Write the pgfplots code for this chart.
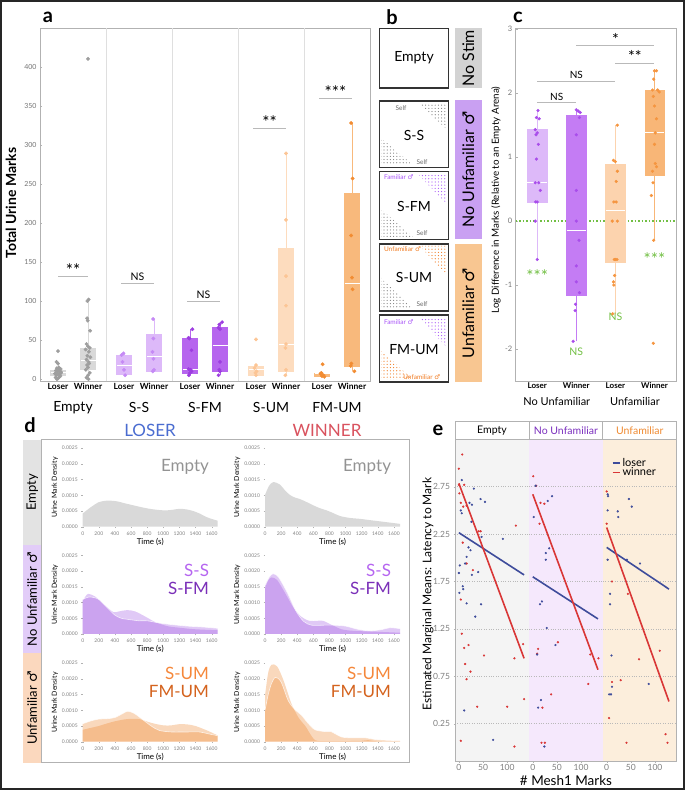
\documentclass[border=0pt]{standalone}
\usepackage{pgfplots}
\pgfplotsset{compat=1.18}
\usepgfplotslibrary{statistics}
\usetikzlibrary{patterns.meta}
\usepackage{fontspec}
\setmainfont{Lato}
\newfontfamily\djv{DejaVu Sans}
\newcommand{\male}{{\djv ♂}}
\newcommand{\fs}[1]{\fontsize{#1}{#1}\selectfont}
\definecolor{gpt}{HTML}{9E9E9E}
\definecolor{gbox}{HTML}{D9D9D9}
\definecolor{lppt}{HTML}{C58AF5}
\definecolor{lpbox}{HTML}{DDB9F9}
\definecolor{ppt}{HTML}{9D3EE0}
\definecolor{pbox}{HTML}{B665EE}
\definecolor{lopt}{HTML}{FCC595}
\definecolor{lobox}{HTML}{FDDCBE}
\definecolor{opt}{HTML}{F28C32}
\definecolor{obox}{HTML}{F8B97C}
\definecolor{cpt}{HTML}{A94DEB}
\definecolor{cbox1}{HTML}{DDB9F9}
\definecolor{cbox2}{HTML}{C47CF4}
\definecolor{copt}{HTML}{F5953F}
\definecolor{cbox3}{HTML}{FCD3AE}
\definecolor{cbox4}{HTML}{F8B677}
\definecolor{sgreen}{HTML}{72BF44}
\definecolor{stripgrey}{HTML}{D3D3D3}
\definecolor{strippurple}{HTML}{C9A0F2}
\definecolor{striporange}{HTML}{F8C691}
\definecolor{famp}{HTML}{A855F7}
\definecolor{unfo}{HTML}{F07A20}
\definecolor{dgrey}{HTML}{D9D9D9}
\definecolor{dpur}{HTML}{994BE0}
\definecolor{dora}{HTML}{EB7E21}
\definecolor{dstripg}{HTML}{E3E3E3}
\definecolor{dstripp}{HTML}{E2CCF8}
\definecolor{dstripo}{HTML}{FBD8BE}
\definecolor{loserblue}{HTML}{4A6CD0}
\definecolor{winnerred}{HTML}{D9525E}
\definecolor{tSS}{HTML}{B565F0}
\definecolor{tSFM}{HTML}{7A2FB8}
\definecolor{tSUM}{HTML}{F5873A}
\definecolor{tFMUM}{HTML}{D4631E}
\definecolor{ebgE}{HTML}{F4F4F4}
\definecolor{ebgN}{HTML}{F5E8FC}
\definecolor{ebgU}{HTML}{FCEEDC}
\definecolor{eblue}{HTML}{3E4C9B}
\definecolor{ered}{HTML}{D93636}
\definecolor{hdrP}{HTML}{7B2FBE}
\definecolor{hdrO}{HTML}{F08A30}
\pgfplotsset{/pgf/number format/assume math mode=true}
\newcommand{\bx}[8]{\addplot[fill=#2, draw=#2, boxplot prepared={draw position=#1, lower whisker=#3, lower quartile=#4, median=#5, upper quartile=#6, upper whisker=#7, box extend=#8, whisker extend=0, draw direction=y, every median/.style={draw=white, line width=1pt}}] coordinates {};}
\pgfplotsset{
 dens/.style={scale only axis, anchor=south west, width=135pt, height=78.5pt, xmin=0, xmax=1675, ymin=0, ymax=2.5,
  axis line style={draw=none}, xtick={0,200,...,1600}, ytick={0,0.5,1,1.5,2,2.5},
  yticklabels={0.0000,0.0005,0.0010,0.0015,0.0020,0.0025}, /pgf/number format/1000 sep={},
  tick label style={font=\fs{5}, text=gray}, major tick length=1.5pt, tick style={gray!60}, tick align=outside, tick pos=left,
  xlabel={Time (s)}, xlabel style={font=\fs{8}, yshift=4pt}, ylabel={Urine Mark Density}, ylabel style={font=\fs{7}, yshift=-3pt}},
 pe/.style={scale only axis, anchor=south west, width=73.9pt, height=322.4pt, xmin=-8, xmax=145, ymin=-0.15, ymax=3.25,
  axis line style={draw=none}, ytick={0.25,0.75,1.25,1.75,2.25,2.75}, ymajorgrids, major grid style={gray!55, dotted, line width=0.6pt},
  xtick={0,50,100}, tick label style={font=\fs{8.5}, text=gray}, major tick length=1.5pt, tick style={gray!60}, tick align=outside, tick pos=left,
  xticklabel style={yshift=2.5pt},
  yticklabel style={/pgf/number format/.cd, fixed, fixed zerofill, precision=2}},
}
\begin{document}
\begin{tikzpicture}
\useasboundingbox (0pt,0pt) rectangle (685pt,790pt);
% ---------------- panel a
\begin{axis}[at={(40pt,408.5pt)}, anchor=south west, scale only axis, width=330pt, height=353pt,
 xmin=0, xmax=11, ymin=-3, ymax=449, axis line style={draw=gray!60, line width=0.9pt},
 ytick={0,50,...,450}, yticklabel style={font=\fs{7}, text=gray!90!black},
 xtick={0.6,1.6,2.8,3.8,5.0,6.0,7.2,8.2,9.4,10.4},
 xticklabels={Loser,Winner,Loser,Winner,Loser,Winner,Loser,Winner,Loser,Winner},
 xticklabel style={font=\bfseries\fs{8.5}, yshift=2pt}, tick pos=left, xtick style={draw=none},
 major tick length=2pt, ytick style={gray!60},
 extra x ticks={2.2,4.4,6.6,8.8}, extra x tick labels={}, extra x tick style={grid=major, major grid style={gray!25, line width=0.7pt}, tick style={draw=none}},
 clip=false]
\bx{0.6}{gbox}{0}{5}{8}{12}{22}{0.5}
\bx{1.6}{gbox}{0}{12.3}{24}{39.5}{100}{0.5}
\bx{2.8}{lpbox}{5}{6}{18}{31}{33}{0.5}
\bx{3.8}{lpbox}{10}{10}{29}{58}{77}{0.5}
\bx{5.0}{pbox}{5}{7}{12}{52}{64}{0.5}
\bx{6.0}{pbox}{5}{10}{43}{67}{73}{0.5}
\bx{7.2}{lobox}{4}{5.5}{12}{17}{18}{0.5}
\bx{8.2}{lobox}{5}{10}{44}{168}{289}{0.5}
\bx{9.4}{obox}{3}{4}{7}{8}{9}{0.5}
\bx{10.4}{obox}{10}{17}{123}{238}{328}{0.5}
\addplot[only marks, mark=*, mark size=1.7pt, color=gpt] coordinates {(0.52,2)(0.6,1)(0.68,4)(0.55,5)(0.64,6)(0.5,7)(0.7,8)(0.58,9)(0.66,10)(0.53,11)(0.62,12)(0.69,13)(0.56,14)(0.63,15)(0.6,20)(0.55,22)(0.6,36)(0.65,3)(0.57,0)(0.7,9)};
\addplot[only marks, mark=*, mark size=1.7pt, color=gpt] coordinates {(1.6,410)(1.62,102)(1.58,100)(1.57,78)(1.59,75)(1.67,62)(1.55,45)(1.6,42)(1.66,40)(1.52,38)(1.63,35)(1.58,30)(1.68,28)(1.55,25)(1.62,22)(1.64,20)(1.57,18)(1.6,15)(1.53,12)(1.66,8)(1.6,5)(1.55,2)(1.62,0)};
\addplot[only marks, mark=*, mark size=1.7pt, color=lppt] coordinates {(2.78,33)(2.72,31)(2.75,22)(2.8,12)(2.84,5)};
\addplot[only marks, mark=*, mark size=1.7pt, color=lppt] coordinates {(3.77,77)(3.78,52)(3.75,35)(3.78,26)(3.8,12)(3.76,10)};
\addplot[only marks, mark=*, mark size=1.7pt, color=ppt] coordinates {(5.08,64)(4.95,53)(4.98,52)(5.05,37)(4.95,13)(5.02,12)(5.05,10)(4.96,5)(5.0,8)};
\addplot[only marks, mark=*, mark size=1.7pt, color=ppt] coordinates {(6.07,73)(5.98,70)(5.95,66)(6.0,64)(6.0,22)(5.98,12)(6.0,10)(5.95,5)};
\addplot[only marks, mark=*, mark size=1.7pt, color=lopt] coordinates {(7.2,51)(7.2,18)(7.15,14)(7.22,10)(7.18,8)(7.2,5)};
\addplot[only marks, mark=*, mark size=1.7pt, color=lopt] coordinates {(8.2,289)(8.2,204)(8.2,132)(8.2,94)(8.2,45)(8.18,40)(8.2,12)(8.18,5)};
\addplot[only marks, mark=*, mark size=1.7pt, color=opt] coordinates {(9.42,19)(9.38,8)(9.35,7)(9.45,5)(9.4,4)(9.48,3)};
\addplot[only marks, mark=*, mark size=1.7pt, color=opt] coordinates {(10.37,328)(10.42,257)(10.37,184)(10.4,130)(10.42,115)(10.38,20)(10.36,17)(10.48,10)};
\draw[gray!55, line width=0.8pt] (axis cs:0.6,131) -- (axis cs:1.6,131) node[midway, above, inner sep=0pt, font=\fs{17}, text=black] {**};
\draw[gray!55, line width=0.8pt] (axis cs:2.7,123) -- (axis cs:3.8,123) node[midway, above, inner sep=2pt, font=\fs{10.5}, text=black] {NS};
\draw[gray!55, line width=0.8pt] (axis cs:4.9,100) -- (axis cs:6.0,100) node[midway, above, inner sep=2pt, font=\fs{10.5}, text=black] {NS};
\draw[gray!55, line width=0.8pt] (axis cs:7.1,321) -- (axis cs:8.2,321) node[midway, above, inner sep=0pt, font=\fs{17}, text=black] {**};
\draw[gray!55, line width=0.8pt] (axis cs:9.3,359) -- (axis cs:10.4,359) node[midway, above, inner sep=0pt, font=\fs{17}, text=black] {***};
\node[font=\fs{14}] at (axis cs:1.1,-3) [yshift=-26pt] {Empty};
\node[font=\fs{14}] at (axis cs:3.3,-3) [yshift=-26pt] {S-S};
\node[font=\fs{14}] at (axis cs:5.5,-3) [yshift=-26pt] {S-FM};
\node[font=\fs{14}] at (axis cs:7.7,-3) [yshift=-26pt] {S-UM};
\node[font=\fs{14}] at (axis cs:9.9,-3) [yshift=-26pt] {FM-UM};
\end{axis}
% ---------------- panel c
\begin{axis}[at={(515.7pt,409pt)}, anchor=south west, scale only axis, width=160.3pt, height=353pt,
 xmin=0.45, xmax=4.55, ymin=-2.5, ymax=3.02, axis line style={draw=gray!60, line width=0.9pt},
 ytick={-2,-1,0,1,2,3}, yticklabel style={font=\fs{7.5}, text=gray!90!black},
 xtick={1,2,3,4}, xticklabels={Loser,Winner,Loser,Winner}, xticklabel style={font=\bfseries\fs{8}, yshift=2pt},
 tick pos=left, xtick style={draw=none}, major tick length=2pt, ytick style={gray!60}, clip=false]
\addplot[sgreen, line width=1.5pt, dash pattern=on 1.5pt off 2pt] coordinates {(0.45,0)(4.55,0)};
\bx{1}{cbox1}{-0.60}{0.30}{0.60}{1.44}{1.73}{0.5}
\bx{2}{cbox2}{-1.88}{-1.16}{-0.14}{1.66}{1.74}{0.5}
\bx{3}{cbox3}{-1.45}{-0.65}{0.16}{0.885}{1.50}{0.5}
\bx{4}{cbox4}{-0.30}{0.72}{1.385}{2.05}{2.35}{0.5}
\addplot[only marks, mark=*, mark size=1.4pt, color=cpt] coordinates {(1.02,1.73)(0.98,1.62)(1.05,1.60)(0.95,1.43)(1.0,1.38)(0.97,1.35)(1.03,1.20)(0.98,0.97)(0.95,0.60)(1.04,0.60)(1.08,0.48)(0.96,0.30)(1.0,0.30)(0.95,0)(1.0,-0.60)};
\addplot[only marks, mark=*, mark size=1.4pt, color=cpt] coordinates {(2.0,1.74)(2.05,1.72)(2.1,1.70)(2.08,1.62)(2.0,1.35)(2.0,0.48)(2.0,0)(2.07,-0.30)(2.0,-0.70)(2.0,-0.95)(2.08,-1.12)(1.98,-1.30)(1.97,-1.40)(1.92,-1.88)};
\addplot[only marks, mark=*, mark size=1.4pt, color=copt] coordinates {(3.05,1.50)(2.95,0.95)(3.0,0.93)(3.05,0.78)(3.02,0.62)(2.96,0.30)(3.02,0.30)(2.92,0)(3.05,0)(2.97,-0.60)(3.04,-0.60)(3.0,-0.60)(2.98,-0.85)(2.95,-0.95)(2.96,-1.0)(2.93,-1.45)};
\addplot[only marks, mark=*, mark size=1.4pt, color=copt] coordinates {(4.0,2.35)(4.05,2.35)(3.98,2.22)(3.95,2.05)(4.08,2.05)(4.12,2.02)(3.97,1.95)(4.0,1.80)(4.05,1.60)(4.02,1.38)(4.0,1.20)(4.02,0.90)(4.05,0.85)(3.95,0.78)(3.96,0.60)(3.92,0.40)(3.98,-0.30)(3.97,-1.91)};
\draw[gray!55, line width=0.8pt] (axis cs:1,1.85) -- (axis cs:2,1.85) node[midway, above, inner sep=2pt, font=\fs{10}, text=black] {NS};
\draw[gray!55, line width=0.8pt] (axis cs:1,2.19) -- (axis cs:3,2.19) node[midway, above, inner sep=2pt, font=\fs{10}, text=black] {NS};
\draw[gray!55, line width=0.8pt] (axis cs:3,2.47) -- (axis cs:4,2.47) node[midway, above, inner sep=0pt, font=\fs{16}, text=black] {**};
\draw[gray!55, line width=0.8pt] (axis cs:2,2.74) -- (axis cs:4,2.74) node[midway, above, inner sep=0pt, font=\fs{16}, text=black] {*};
\node[text=sgreen, font=\fs{17}] at (axis cs:1,-0.86) {***};
\node[text=sgreen, font=\fs{10.5}] at (axis cs:2,-2.04) {NS};
\node[text=sgreen, font=\fs{10.5}] at (axis cs:3,-1.49) {NS};
\node[text=sgreen, font=\fs{17}] at (axis cs:4,-0.60) {***};
\node[font=\fs{11}] at (axis cs:1.5,-2.5) [yshift=-21pt] {No Unfamiliar};
\node[font=\fs{11}] at (axis cs:3.5,-2.5) [yshift=-21pt] {Unfamiliar};
\end{axis}
% ---------------- panel d axes
\begin{axis}[dens, at={(82.7pt,263.3pt)}]
\addplot[fill=dgrey, draw=none, smooth] coordinates {(0,0.42)(100,0.62)(200,0.78)(300,0.83)(420,0.81)(530,0.74)(630,0.68)(730,0.62)(830,0.57)(950,0.53)(1040,0.52)(1120,0.54)(1200,0.57)(1290,0.55)(1370,0.50)(1450,0.42)(1534,0.31)(1610,0.24)(1675,0.19)} \closedcycle;
\end{axis}
\begin{axis}[dens, at={(265pt,263.3pt)}]
\addplot[fill=dgrey, draw=none, smooth] coordinates {(0,1.01)(50,1.30)(103,1.42)(186,1.34)(250,1.15)(310,1.01)(370,0.93)(434,0.88)(520,0.78)(600,0.68)(680,0.59)(765,0.52)(850,0.43)(930,0.34)(1050,0.28)(1178,0.25)(1300,0.21)(1426,0.17)(1550,0.13)(1675,0.09)} \closedcycle;
\end{axis}
\begin{axis}[dens, at={(82.7pt,156pt)}]
\addplot[fill=dpur, fill opacity=0.3, draw=none, smooth] coordinates {(0,1.05)(35,1.2)(70,1.28)(150,1.2)(220,1.05)(280,0.9)(380,0.7)(450,0.72)(550,0.76)(650,0.72)(780,0.55)(900,0.38)(1050,0.25)(1200,0.2)(1400,0.15)(1675,0.12)} \closedcycle;
\addplot[fill=dpur, fill opacity=0.3, draw=none, smooth] coordinates {(0,1.1)(40,1.15)(80,1.18)(140,1.16)(200,1.1)(300,0.85)(400,0.6)(480,0.5)(550,0.47)(700,0.42)(800,0.42)(950,0.35)(1100,0.3)(1300,0.25)(1500,0.22)(1675,0.18)} \closedcycle;
\addplot[white, opacity=0.75, line width=0.6pt, smooth] coordinates {(0,1.1)(40,1.15)(80,1.18)(140,1.16)(200,1.1)(300,0.85)(400,0.6)(480,0.5)(550,0.47)(700,0.42)(800,0.42)(950,0.35)(1100,0.3)(1300,0.25)(1500,0.22)(1675,0.18)};
\end{axis}
\begin{axis}[dens, at={(265pt,156pt)}]
\addplot[fill=dpur, fill opacity=0.3, draw=none, smooth] coordinates {(0,1.45)(40,1.7)(80,1.8)(150,1.72)(250,1.3)(350,0.85)(450,0.55)(550,0.42)(650,0.42)(720,0.42)(820,0.3)(950,0.15)(1100,0.1)(1300,0.08)(1500,0.06)(1675,0.04)} \closedcycle;
\addplot[fill=dpur, fill opacity=0.3, draw=none, smooth] coordinates {(0,1.55)(50,1.8)(100,1.92)(170,1.8)(280,1.3)(380,0.75)(480,0.4)(580,0.28)(720,0.28)(850,0.28)(1000,0.25)(1150,0.15)(1300,0.1)(1450,0.14)(1550,0.2)(1675,0.17)} \closedcycle;
\addplot[white, opacity=0.75, line width=0.6pt, smooth] coordinates {(0,1.55)(50,1.8)(100,1.92)(170,1.8)(280,1.3)(380,0.75)(480,0.4)(580,0.28)(720,0.28)(850,0.28)(1000,0.25)(1150,0.15)(1300,0.1)(1450,0.14)(1550,0.2)(1675,0.17)};
\end{axis}
\begin{axis}[dens, at={(82.7pt,48.3pt)}]
\addplot[fill=dora, fill opacity=0.3, draw=none, smooth] coordinates {(0,0.38)(100,0.44)(200,0.5)(300,0.58)(400,0.65)(550,0.72)(700,0.72)(850,0.6)(1000,0.52)(1100,0.52)(1200,0.56)(1300,0.55)(1400,0.5)(1550,0.35)(1675,0.2)} \closedcycle;
\addplot[fill=dora, fill opacity=0.3, draw=none, smooth] coordinates {(0,0.57)(100,0.66)(200,0.72)(300,0.73)(400,0.77)(500,0.9)(560,0.97)(640,0.9)(720,0.75)(850,0.5)(950,0.36)(1100,0.31)(1300,0.31)(1450,0.31)(1560,0.25)(1675,0.19)} \closedcycle;
\addplot[white, opacity=0.75, line width=0.6pt, smooth] coordinates {(0,0.57)(100,0.66)(200,0.72)(300,0.73)(400,0.77)(500,0.9)(560,0.97)(640,0.9)(720,0.75)(850,0.5)(950,0.36)(1100,0.31)(1300,0.31)(1450,0.31)(1560,0.25)(1675,0.19)};
\end{axis}
\begin{axis}[dens, at={(265pt,48.3pt)}]
\addplot[fill=dora, fill opacity=0.3, draw=none, smooth] coordinates {(0,1.47)(40,2.2)(80,2.45)(150,2.4)(230,1.95)(330,1.2)(420,0.75)(500,0.5)(560,0.25)(620,0.05)(700,0.02)(850,0.02)(1000,0.02)(1200,0.03)(1280,0.05)(1400,0.01)(1675,0)} \closedcycle;
\addplot[fill=dora, fill opacity=0.3, draw=none, smooth] coordinates {(0,1.0)(40,1.5)(80,1.85)(130,2.05)(200,1.9)(290,1.3)(380,1.0)(450,0.85)(530,0.6)(620,0.38)(750,0.32)(820,0.32)(950,0.15)(1100,0.12)(1250,0.12)(1400,0.06)(1675,0.03)} \closedcycle;
\addplot[white, opacity=0.75, line width=0.6pt, smooth] coordinates {(0,1.0)(40,1.5)(80,1.85)(130,2.05)(200,1.9)(290,1.3)(380,1.0)(450,0.85)(530,0.6)(620,0.38)(750,0.32)(820,0.32)(950,0.15)(1100,0.12)(1250,0.12)(1400,0.06)(1675,0.03)};
\end{axis}
% ---------------- panel e axes
\begin{axis}[pe, at={(455pt,28.3pt)}, axis background/.style={fill=ebgE}]
\addplot[only marks, mark=*, mark size=0.9pt, color=ered] coordinates {(7,3.09)(0,2.94)(0,2.77)(1,2.68)(4,2.58)(11,2.77)(9,2.54)(8,2.16)(16,2.55)(41,2.28)(45,2.28)(118,2.34)(16,1.94)(29,1.87)(4,1.56)(6,1.2)(11,1.05)(20,1.08)(52,0.97)(13,0.88)(24,0.8)(16,0.72)(115,0.94)(133,1.09)(135,0.51)(38,0.43)(100,0.43)(4,0.07)(115,0.01)};
\addplot[only marks, mark=*, mark size=0.9pt, color=eblue] coordinates {(6,2.82)(4,2.5)(6,2.47)(31,2.73)(22,2.58)(27,2.56)(45,2.62)(54,2.59)(26,2.38)(47,2.22)(91,2.2)(20,2.11)(24,2.08)(16,2.01)(13,1.94)(2,1.92)(0,1.84)(27,1.82)(40,1.85)(8,1.7)(9,1.67)(1,1.63)(16,1.52)(46,1.51)(34,1.38)(11,0.39)(71,0.08)};
\addplot[eblue, line width=1.6pt] coordinates {(0,2.265)(135,1.82)};
\addplot[ered, line width=1.6pt] coordinates {(0,2.785)(135,0.94)};
\end{axis}
\begin{axis}[pe, at={(528.9pt,28.3pt)}, axis background/.style={fill=ebgN}, yticklabels={}, ytick style={draw=none}]
\addplot[only marks, mark=*, mark size=0.9pt, color=ered] coordinates {(1,2.86)(7,2.76)(16,2.58)(24,2.57)(14,2.36)(11,1.04)(9,0.99)(52,1.11)(38,0.56)(115,0.67)(119,0.98)(136,0.94)(20,0.42)(18,0.05)(25,0.05)};
\addplot[only marks, mark=*, mark size=0.9pt, color=eblue] coordinates {(6,2.76)(2,2.43)(31,2.6)(40,2.65)(27,2.05)(34,2.1)(27,1.98)(15,1.51)(19,1.54)(29,1.26)(47,1.08)(9,0.98)(17,0.5)(11,0.42)(24,0.01)};
\addplot[eblue, line width=1.6pt] coordinates {(0,1.80)(135,1.356)};
\addplot[ered, line width=1.6pt] coordinates {(0,2.67)(135,0.82)};
\end{axis}
\begin{axis}[pe, at={(602.8pt,28.3pt)}, axis background/.style={fill=ebgU}, yticklabels={}, ytick style={draw=none},
 legend style={draw=none, fill=none, at={(0.08,0.955)}, anchor=north west, font=\fs{11}, row sep=-4pt},
 legend cell align=left, legend image code/.code={\draw[#1, line width=1.6pt] (0pt,0pt) -- (7pt,0pt);}]
\addplot[eblue, line width=1.6pt] coordinates {(0,2.11)(129,1.67)};
\addlegendentry{loser}
\addplot[ered, line width=1.6pt] coordinates {(0,2.32)(129,0.485)};
\addlegendentry{winner}
\addplot[only marks, mark=*, mark size=0.9pt, color=ered, forget plot] coordinates {(0,2.70)(0,2.36)(11,1.75)(44,1.62)(29,0.71)(67,0.93)(110,1.02)(11,0.69)(5,0.31)(41,0.05)(122,0.14)(126,0.05)};
\addplot[only marks, mark=*, mark size=0.9pt, color=eblue, forget plot] coordinates {(2,2.67)(3,2.65)(2,2.5)(23,2.49)(24,2.43)(46,2.62)(52,2.54)(2,1.98)(42,1.98)(69,1.94)(7,1.62)(7,1.51)(10,0.97)(11,0.64)(5,0.56)(9,0.56)(87,0.67)};
\end{axis}
% ---------------- plain drawings in pt
\begin{scope}[x=1pt,y=1pt]
\node[font=\bfseries\fs{20}] at (48,773) {a};
\node[rotate=90, font=\bfseries\fs{14}] at (11,587) {Total Urine Marks};
% panel b
\node[font=\bfseries\fs{20}] at (392,773) {b};
\fill[stripgrey] (455,761.5) rectangle (481.5,702);
\node[rotate=90, font=\fs{16}] at (468.3,731.8) {No Stim};
\fill[strippurple] (455,690) rectangle (481.5,551);
\node[rotate=90, font=\fs{16}] at (468.3,620.5) {No Unfamiliar \male};
\fill[striporange] (455,546) rectangle (481.5,408);
\node[rotate=90, font=\fs{16}] at (468.3,477) {Unfamiliar \male};
\tikzset{bx/.style={draw=black!80, line width=1.3pt}}
\draw[bx] (379.5,761.5) rectangle (448.3,702);
\node[font=\fs{14}] at (414,732) {Empty};
\fill[pattern={Dots[distance=3.2pt, radius=0.6pt]}, pattern color=gray] (418,687) -- (446.5,687) -- (446.5,661) -- cycle;
\fill[pattern={Dots[distance=3.2pt, radius=0.6pt]}, pattern color=gray] (381,652) -- (381,625) -- (413,625) -- cycle;
\draw[bx] (379.5,689) rectangle (448.3,622.3);
\node[font=\fs{14}] at (414,655) {S-S};
\node[font=\fs{6.5}, text=gray!80!black, anchor=east] at (410,682.3) {Self};
\node[font=\fs{6.5}, text=gray!80!black] at (422,628.3) {Self};
\fill[pattern={Dots[distance=3.2pt, radius=0.6pt]}, pattern color=famp] (418,616) -- (446.5,616) -- (446.5,586) -- cycle;
\fill[pattern={Dots[distance=3.2pt, radius=0.6pt]}, pattern color=gray] (381,581) -- (381,553) -- (413,553) -- cycle;
\draw[bx] (379.5,618.3) rectangle (448.3,550.7);
\node[font=\fs{14}] at (414,584) {S-FM};
\node[font=\fs{6.5}, text=famp, anchor=west] at (380.5,613) {Familiar \male};
\node[font=\fs{6.5}, text=gray!80!black] at (422,556.5) {Self};
\fill[pattern={Dots[distance=3.2pt, radius=0.6pt]}, pattern color=unfo] (420,544) -- (446.5,544) -- (446.5,515) -- cycle;
\fill[pattern={Dots[distance=3.2pt, radius=0.6pt]}, pattern color=gray] (381,512) -- (381,482) -- (413,482) -- cycle;
\draw[bx] (379.5,546) rectangle (448.3,479);
\node[font=\fs{14}] at (414,512.3) {S-UM};
\node[font=\fs{6.5}, text=unfo, anchor=west] at (380.5,540.7) {Unfamiliar \male};
\node[font=\fs{6.5}, text=gray!80!black] at (422,485.7) {Self};
\fill[pattern={Dots[distance=3.2pt, radius=0.6pt]}, pattern color=famp] (418,473) -- (446.5,473) -- (446.5,443) -- cycle;
\fill[pattern={Dots[distance=3.2pt, radius=0.6pt]}, pattern color=unfo] (381,440) -- (381,410) -- (413,410) -- cycle;
\draw[bx] (379.5,475) rectangle (448.3,408);
\node[font=\fs{14}] at (414,440) {FM-UM};
\node[font=\fs{6.5}, text=famp, anchor=west] at (380.5,468) {Familiar \male};
\node[font=\fs{6.5}, text=unfo] at (421.7,413.3) {Unfamiliar \male};
% panel c labels
\node[font=\bfseries\fs{20}] at (518,773) {c};
\node[rotate=90, font=\fs{9.8}] at (496,590) {Log Difference in Marks (Relative to an Empty Arena)};
% panel d
\node[font=\bfseries\fs{20}] at (30,365) {d};
\node[font=\fs{17}, text=loserblue] at (150,360) {LOSER};
\node[font=\fs{17}, text=winnerred] at (327,360) {WINNER};
\fill[dstripg] (23,350) rectangle (41.7,245);
\fill[dstripp] (23,245) rectangle (41.7,137);
\fill[dstripo] (23,137) rectangle (41.7,27.3);
\node[rotate=90, font=\fs{13}] at (32.3,297.5) {Empty};
\node[rotate=90, font=\fs{13}] at (32.3,191) {No Unfamiliar \male};
\node[rotate=90, font=\fs{13}] at (32.3,82) {Unfamiliar \male};
\draw[gray!60, line width=1pt] (41.7,350) rectangle (409,27.3);
\node[font=\fs{17}, text=gray!85, anchor=east] at (212.5,323.3) {Empty};
\node[font=\fs{17}, text=gray!85, anchor=east] at (394.5,323.3) {Empty};
\node[font=\fs{17}, text=tSS, anchor=east] at (212.5,220) {S-S};
\node[font=\fs{17}, text=tSFM, anchor=east] at (212.5,202) {S-FM};
\node[font=\fs{17}, text=tSS, anchor=east] at (394.5,220) {S-S};
\node[font=\fs{17}, text=tSFM, anchor=east] at (394.5,202) {S-FM};
\node[font=\fs{17}, text=tSUM, anchor=east] at (212.5,117) {S-UM};
\node[font=\fs{17}, text=tFMUM, anchor=east] at (212.5,98.3) {FM-UM};
\node[font=\fs{17}, text=tSUM, anchor=east] at (394.5,117) {S-UM};
\node[font=\fs{17}, text=tFMUM, anchor=east] at (394.5,98.3) {FM-UM};
% panel e
\node[font=\bfseries\fs{20}] at (438,360) {e};
\node[rotate=90, font=\fs{12}] at (428,196) {Estimated Marginal Means: Latency to Mark};
\draw[gray!60, fill=white, line width=0.8pt] (455,368.3) rectangle (528.9,350.7);
\draw[gray!60, fill=white, line width=0.8pt] (528.9,368.3) rectangle (602.8,350.7);
\draw[gray!60, fill=white, line width=0.8pt] (602.8,368.3) rectangle (676.7,350.7);
\node[font=\fs{10.5}] at (491.95,359.5) {Empty};
\node[font=\fs{10.5}, text=hdrP] at (565.85,359.5) {No Unfamiliar};
\node[font=\fs{10.5}, text=hdrO] at (639.75,359.5) {Unfamiliar};
\draw[gray!60, line width=1pt] (455,350.7) rectangle (676.7,28.3);
\node[font=\fs{13.5}] at (566,9.5) {\# Mesh1 Marks};
\draw[black!85, line width=2pt] (1,1) rectangle (684,789);
\end{scope}
\end{tikzpicture}
\end{document}
